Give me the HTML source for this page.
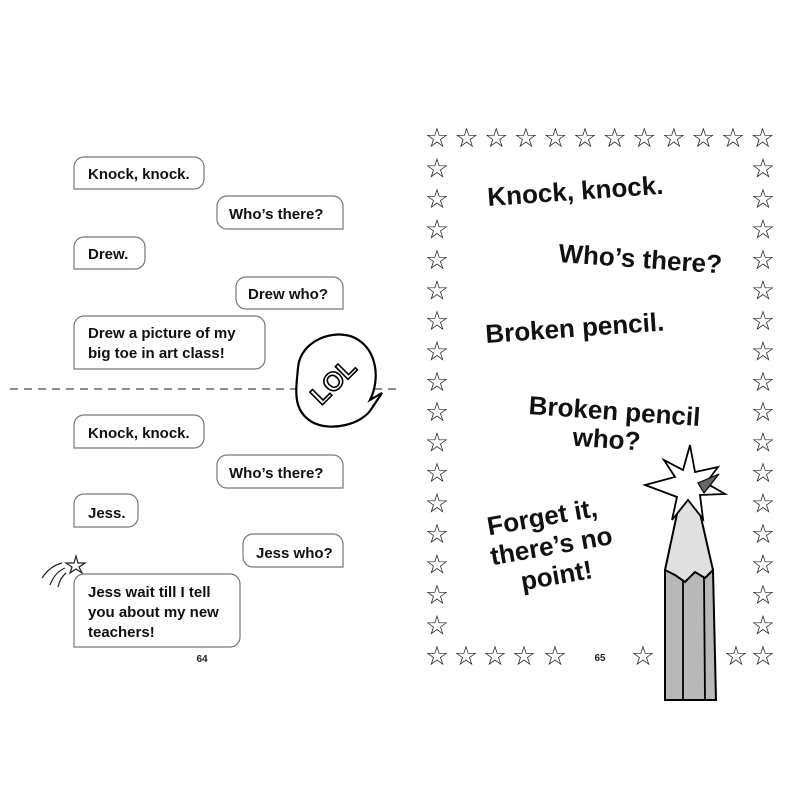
<!DOCTYPE html>
<html><head><meta charset="utf-8"><style>
html,body{margin:0;padding:0;background:#fff;}
svg{display:block}
.b{fill:#fff;stroke:#777;stroke-width:1.2}
.t{font-family:"Liberation Sans",sans-serif;font-weight:bold;font-size:15px;fill:#111}
.r{font-family:"Liberation Sans",sans-serif;font-weight:bold;font-size:26px;fill:#111}
</style></head><body>
<svg id="s" width="800" height="800" viewBox="0 0 800 800" xmlns="http://www.w3.org/2000/svg">
<path class="b" d="M74,189 V167 a10,10 0 0 1 10,-10 H194 a10,10 0 0 1 10,10 V179 a10,10 0 0 1 -10,10 Z"/>
<text class="t" x="88" y="179">Knock, knock.</text>
<path class="b" d="M343,229 V206 a10,10 0 0 0 -10,-10 H227 a10,10 0 0 0 -10,10 V219 a10,10 0 0 0 10,10 Z"/>
<text class="t" x="229" y="219">Who’s there?</text>
<path class="b" d="M74,269 V247 a10,10 0 0 1 10,-10 H135 a10,10 0 0 1 10,10 V259 a10,10 0 0 1 -10,10 Z"/>
<text class="t" x="88" y="259">Drew.</text>
<path class="b" d="M343,309 V287 a10,10 0 0 0 -10,-10 H246 a10,10 0 0 0 -10,10 V299 a10,10 0 0 0 10,10 Z"/>
<text class="t" x="248" y="299">Drew who?</text>
<path class="b" d="M74,369 V326 a10,10 0 0 1 10,-10 H255 a10,10 0 0 1 10,10 V359 a10,10 0 0 1 -10,10 Z"/>
<text class="t" x="88" y="338">Drew a picture of my</text>
<text class="t" x="88" y="358">big toe in art class!</text>
<line x1="10" y1="389" x2="400" y2="389" stroke="#666" stroke-width="1.5" stroke-dasharray="8,6"/>
<path d="M298,368 C300,340 335,328 355,338 C378,350 380,380 370,400 L382,393 L372,408 C362,425 330,432 312,422 C292,410 296,390 298,368 Z" fill="#fff" stroke="#000" stroke-width="2.2"/>
<text x="334" y="390" text-anchor="middle" transform="rotate(-45 334 382)" font-family="Liberation Sans,sans-serif" font-weight="bold" font-size="26" fill="#fff" stroke="#000" stroke-width="1.6">LOL</text>
<path class="b" d="M74,448 V425 a10,10 0 0 1 10,-10 H194 a10,10 0 0 1 10,10 V438 a10,10 0 0 1 -10,10 Z"/>
<text class="t" x="88" y="438">Knock, knock.</text>
<path class="b" d="M343,488 V465 a10,10 0 0 0 -10,-10 H227 a10,10 0 0 0 -10,10 V478 a10,10 0 0 0 10,10 Z"/>
<text class="t" x="229" y="478">Who’s there?</text>
<path class="b" d="M74,527 V504 a10,10 0 0 1 10,-10 H128 a10,10 0 0 1 10,10 V517 a10,10 0 0 1 -10,10 Z"/>
<text class="t" x="88" y="518">Jess.</text>
<path class="b" d="M343,567 V544 a10,10 0 0 0 -10,-10 H253 a10,10 0 0 0 -10,10 V557 a10,10 0 0 0 10,10 Z"/>
<text class="t" x="256" y="558">Jess who?</text>
<path class="b" d="M74,647 V584 a10,10 0 0 1 10,-10 H230 a10,10 0 0 1 10,10 V637 a10,10 0 0 1 -10,10 Z"/>
<text class="t" x="88" y="597">Jess wait till I tell</text>
<text class="t" x="88" y="617">you about my new</text>
<text class="t" x="88" y="637">teachers!</text>
<text x="202" y="662" text-anchor="middle" font-family="Liberation Sans,sans-serif" font-weight="bold" font-size="10" fill="#222">64</text>
<g fill="none" stroke="#222" stroke-width="1.2">
<polygon points="76,556 78,563 85,563 79,567 82,573 76,569 70,573 72,567 66,563 74,563"/>
<path d="M42,578 Q50,566 62,563 M50,585 Q55,572 65,568 M58,587 Q60,578 66,573"/>
</g>
<g id="stars" font-family="DejaVu Sans,sans-serif" font-size="27" fill="#222" text-anchor="middle"></g>
<text x="600" y="661" text-anchor="middle" font-family="Liberation Sans,sans-serif" font-weight="bold" font-size="10" fill="#222">65</text>
<text class="r" x="488" y="206" transform="rotate(-4 488 206)">Knock, knock.</text>
<text class="r" x="558" y="262" transform="rotate(4 558 262)">Who’s there?</text>
<text class="r" x="486" y="343" transform="rotate(-4 486 343)">Broken pencil.</text>
<text class="r" x="614" y="420" text-anchor="middle" transform="rotate(4 614 420)">Broken pencil</text>
<text class="r" x="606" y="448" text-anchor="middle" transform="rotate(4 606 448)">who?</text>
<g transform="rotate(-10 550 550)">
<text class="r" x="548" y="525" text-anchor="middle">Forget it,</text>
<text class="r" x="552" y="555" text-anchor="middle">there’s no</text>
<text class="r" x="552" y="585" text-anchor="middle">point!</text>
</g>
<polygon points="665,570 665,700 716,700 713,570" fill="#b8b8b8" stroke="#000" stroke-width="2"/>
<line x1="683" y1="578" x2="683" y2="700" stroke="#000" stroke-width="1.8"/>
<line x1="704" y1="578" x2="705" y2="700" stroke="#000" stroke-width="1.8"/>
<polygon points="680,500 697,500 713,570 705,578 695,572 685,582 675,575 665,570" fill="#e0e0e0" stroke="#000" stroke-width="2"/>
<polygon points="690,445 695,472 718,467 706,483 725,494 700,495 703,519 688,500 672,520 677,497 645,485 675,477 664,460 683,470" fill="#fff" stroke="#000" stroke-width="1.8"/>
<polygon points="698,483 719,474 704,493" fill="#666" stroke="#000" stroke-width="1.2"/>
</svg>
<script>
var g=document.getElementById('stars'),h='';
function s(x,y){h+='<text x="'+x+'" y="'+(y+10)+'">☆</text>';}
for(var i=0;i<12;i++)s(437+i*29.6,137);
for(var j=1;j<17;j++){var y=137+j*(518/17);s(437,y);s(763,y);}
[437,466,495,524,555].forEach(function(x){s(x,655);});
s(643,655);s(736,655);s(763,655);
g.innerHTML=h;
</script>
</body></html>
